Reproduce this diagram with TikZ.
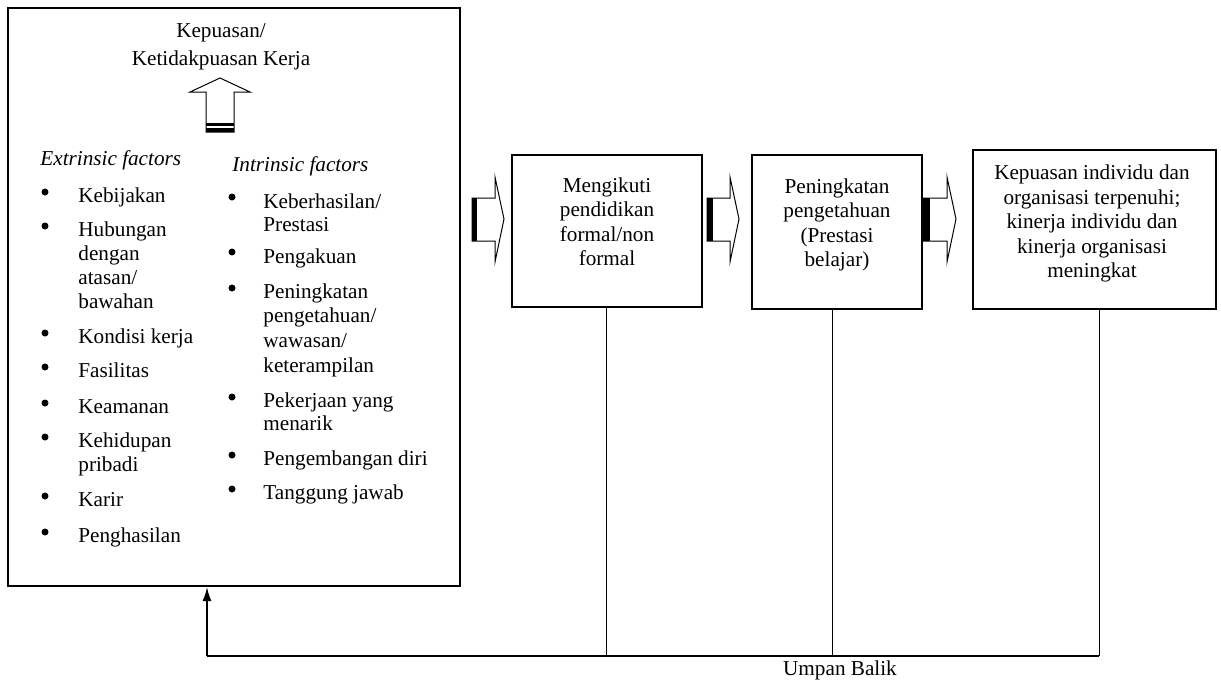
\documentclass[tikz,border=0pt]{standalone}
\usepackage{fontspec}
\setmainfont{Liberation Serif}
\usetikzlibrary{arrows.meta}
\newcommand\lineL[4]{\node[txt,anchor=base west] (#1) at (#2,#3) {#4};}
\newcommand\lineC[4]{\node[txt,anchor=base] (#1) at (#2,#3) {#4};}
\newcommand\bulletAt[3]{\node[dot] (#1) at (#2,#3) {};}
\begin{document}
\begin{tikzpicture}[x=0.5pt,y=-0.5pt,
 txt/.style={inner sep=0pt,font=\fontsize{10.6pt}{12pt}\selectfont},
 bigbox/.style={draw,line width=1pt,inner sep=0pt},
 stepbox/.style={draw,line width=0.75pt,inner sep=0pt},
 dot/.style={circle,fill,inner sep=0pt,minimum size=3.5pt},
 blockarrow/.style={draw,line width=0.5pt,fill=white},
 fb/.style={line width=0.5pt},
 fbmain/.style={line width=0.9pt}]
\useasboundingbox (0,0) rectangle (1221,680);

% main box
\node[bigbox,minimum width=226pt,minimum height=289pt] (main) at (234,297) {};
\lineC{k1}{221}{37}{Kepuasan/}
\lineC{k2}{221}{65}{Ketidakpuasan Kerja}

% up arrow
\draw[blockarrow] (206,132) -- (206,92) -- (190,92) -- (220,78) -- (250,92) -- (234,92) -- (234,132) -- cycle;
\fill (206,128.3) rectangle (234,132.3);
\fill (206,123.3) rectangle (234,126);

% headers
\lineL{eh}{40}{165}{\textit{Extrinsic factors}}
\lineL{ih}{232}{171}{\textit{Intrinsic factors}}

% extrinsic list
\bulletAt{eb1}{45}{192}\lineL{e1}{78}{202}{Kebijakan}
\bulletAt{eb2}{45}{226}\lineL{e2a}{78}{236}{Hubungan}
\lineL{e2b}{78}{260}{dengan}
\lineL{e2c}{78}{284}{atasan/}
\lineL{e2d}{78}{308}{bawahan}
\bulletAt{eb3}{45}{333}\lineL{e3}{78}{343}{Kondisi kerja}
\bulletAt{eb4}{45}{367}\lineL{e4}{78}{377}{Fasilitas}
\bulletAt{eb5}{45}{403}\lineL{e5}{78}{413}{Keamanan}
\bulletAt{eb6}{45}{437}\lineL{e6a}{78}{447}{Kehidupan}
\lineL{e6b}{78}{471}{pribadi}
\bulletAt{eb7}{45}{496}\lineL{e7}{78}{506}{Karir}
\bulletAt{eb8}{45}{532}\lineL{e8}{78}{542}{Penghasilan}

% intrinsic list
\bulletAt{ib1}{232}{197}\lineL{i1a}{263}{208}{Keberhasilan/}
\lineL{i1b}{263}{231}{Prestasi}
\bulletAt{ib2}{232}{252}\lineL{i2}{263}{263}{Pengakuan}
\bulletAt{ib3}{232}{288}\lineL{i3a}{263}{298}{Peningkatan}
\lineL{i3b}{263}{322}{pengetahuan/}
\lineL{i3c}{263}{347}{wawasan/}
\lineL{i3d}{263}{372}{keterampilan}
\bulletAt{ib4}{232}{397}\lineL{i4a}{263}{407}{Pekerjaan yang}
\lineL{i4b}{263}{430}{menarik}
\bulletAt{ib5}{232}{455}\lineL{i5}{263}{465}{Pengembangan diri}
\bulletAt{ib6}{232}{489}\lineL{i6}{263}{499}{Tanggung jawab}

% step boxes
\node[stepbox,minimum width=95pt,minimum height=76pt] (b2) at (607,231) {};
\node[stepbox,minimum width=85pt,minimum height=77pt] (b3) at (837,232) {};
\node[stepbox,minimum width=121.5pt,minimum height=79.5pt] (b4) at (1094.5,229.5) {};

\lineC{m1}{607}{192}{Mengikuti}
\lineC{m2}{607}{216}{pendidikan}
\lineC{m3}{607}{241}{formal/non}
\lineC{m4}{607}{265}{formal}

\lineC{p1}{837}{193}{Peningkatan}
\lineC{p2}{837}{217}{pengetahuan}
\lineC{p3}{837}{242}{(Prestasi}
\lineC{p4}{837}{266}{belajar)}

\lineC{q1}{1092}{179}{Kepuasan individu dan}
\lineC{q2}{1092}{204}{organisasi terpenuhi;}
\lineC{q3}{1092}{228}{kinerja individu dan}
\lineC{q4}{1092}{253}{kinerja organisasi}
\lineC{q5}{1092}{277}{meningkat}

% right block arrows
\foreach \xa/\xb/\xc/\xd in {472/477/495/504, 707/713/730/739, 923/930/947/956}{
  \draw[blockarrow] (\xa,198) -- (\xc,198) -- (\xc,177) -- (\xd,219) -- (\xc,262) -- (\xc,241) -- (\xa,241) -- cycle;
  \fill (\xa,198) rectangle (\xb,241);
}

% feedback
\coordinate (f2) at (606,656);
\coordinate (f3) at (832,656);
\coordinate (f4) at (1099,656);
\coordinate (f0) at (207,656);
\draw[fb] (b2.south -| f2) -- (f2);
\draw[fb] (b3.south -| f3) -- (f3);
\draw[fb] (b4.south -| f4) -- (f4);
\draw[fbmain] (f4) -- (f0);
\draw[fbmain,-{Latex[length=7pt,width=4.5pt]}] (f0) -- (main.south -| f0);
\lineC{ub}{840}{675}{Umpan Balik}
\end{tikzpicture}
\end{document}
